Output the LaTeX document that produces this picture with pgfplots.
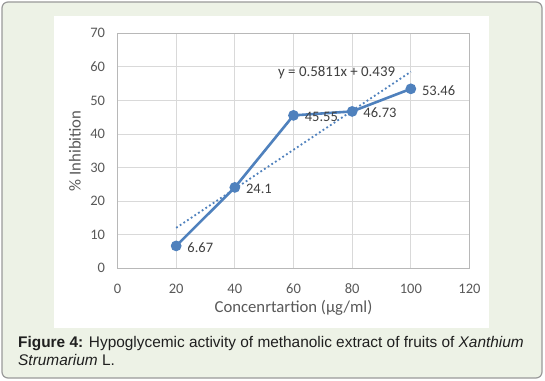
\documentclass[border=0pt]{standalone}
\usepackage{pgfplots}
\pgfplotsset{compat=1.18}
\usepackage{fontspec}
\setmainfont{Liberation Sans}
\newfontfamily\chartfont{Carlito}
\definecolor{bgcol}{HTML}{EDF2E6}
\definecolor{bordercol}{HTML}{9A9A9A}
\definecolor{serieblue}{HTML}{4F81BD}
\definecolor{tickgray}{HTML}{595959}
\definecolor{labgray}{HTML}{404040}
\definecolor{gridgray}{HTML}{D9D9D9}
\begin{document}
\begin{tikzpicture}
\fill[white] (0pt,0pt) rectangle (545pt,380pt);
\draw[fill=bgcol, draw=bordercol, line width=1.2pt, rounded corners=6pt] (2pt,2pt) rectangle (542pt,378pt);
\fill[white] (54pt,52pt) rectangle (489pt,364pt);
\begin{axis}[
  at={(117.5pt,111.7pt)}, anchor=south west,
  scale only axis, width=352pt, height=235pt,
  xmin=0, xmax=120, ymin=0, ymax=70,
  xtick distance=20, ytick distance=10,
  grid=major,
  major grid style={draw=gridgray, line width=0.9pt},
  axis line style={draw=gridgray!85!black, line width=0.9pt},
  major tick length=0pt,
  /pgf/number format/assume math mode=true,
  ticklabel style={font=\chartfont\fontsize{14.5}{16}\selectfont, text=tickgray},
  xticklabel style={yshift=-12pt},
  yticklabel style={xshift=-9pt},
  xlabel={Concenrtartion (µg/ml)},
  ylabel={\% Inhibition},
  every axis x label/.style={at={(axis description cs:0.5,-0.169)}, anchor=center, font=\chartfont\fontsize{16.7}{18}\selectfont, text=tickgray},
  every axis y label/.style={at={(axis description cs:-0.1207,0.5)}, anchor=center, rotate=90, font=\chartfont\fontsize{16.7}{18}\selectfont, text=tickgray},
  clip=false,
]
\addplot[serieblue, line width=1.8pt, dash pattern=on 1.8pt off 2.6pt] coordinates {(20,12.061) (100,58.549)};
\addplot[serieblue, line width=2.6pt, mark=*, mark size=4pt, mark options={fill=serieblue, solid},
  nodes near coords, point meta=explicit symbolic,
  every node near coord/.append style={anchor=west, xshift=9pt, yshift=-1.5pt, inner sep=1pt, font=\chartfont\fontsize{14.5}{17}\selectfont, text=labgray}]
  coordinates {(20,6.67) [6.67] (40,24.1) [24.1] (60,45.55) [45.55] (80,46.73) [46.73] (100,53.46) [53.46]};
\node[font=\chartfont\fontsize{14.9}{16}\selectfont, text=labgray] at (axis cs:74.7,58.3) {y = 0.5811x + 0.439};
\end{axis}
\node[anchor=base west, font=\fontsize{15.4}{18}\selectfont, text=black!88, inner sep=0pt] at (18pt,33pt) {\textbf{Figure 4:} Hypoglycemic activity of methanolic extract of fruits of \textit{Xanthium}};
\node[anchor=base west, font=\fontsize{15.4}{18}\selectfont, text=black!88, inner sep=0pt] at (18pt,15pt) {\textit{Strumarium} L.};
\end{tikzpicture}
\end{document}
